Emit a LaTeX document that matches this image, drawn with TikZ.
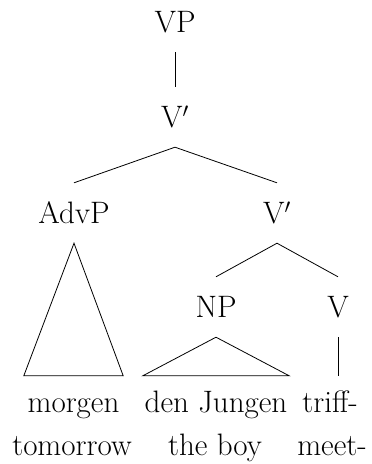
\documentclass[tikz,border=0pt]{standalone}
\usepackage{fontspec}
\begin{document}
\begin{tikzpicture}[x=1pt,y=-1pt,
  font=\fontsize{31}{37}\selectfont,
  cat/.style={anchor=base,inner xsep=0pt,inner ysep=20pt,text height=20pt,text depth=0pt},
  leaf/.style={anchor=base,inner xsep=0pt,inner ysep=16pt,text height=20pt,text depth=0pt,minimum height=0pt},
  gloss/.style={anchor=base,inner sep=0pt},
  br/.style={line width=0.8pt}]
\useasboundingbox (0,0) rectangle (372,464);
\node[cat] (vp) at (175,32) {VP};
\node[cat] (v1) at (175,127) {V$'$};
\node[cat] (adv) at (74,223) {AdvP};
\node[cat] (v2) at (277,223) {V$'$};
\node[cat] (np) at (216,317) {NP};
\node[cat] (v) at (338,317) {V};
\node[leaf,minimum width=99pt] (morgen) at (73.5,412) {morgen};
\node[leaf,minimum width=146pt] (jungen) at (216,412) {den Jungen};
\node[leaf] (triff) at (330,412) {triff-};
\node[gloss] (g1) at (72,455) {tomorrow};
\node[gloss] (g2) at (215,455) {the boy};
\node[gloss] (g3) at (332,455) {meet-};
\draw[br] (vp.south) -- (v1.north);
\draw[br] (adv.north) -- (v1.south) -- (v2.north);
\draw[br] (np.north) -- (v2.south) -- (v.north);
\draw[br] (adv.south) -- (morgen.north west) -- (morgen.north east) -- cycle;
\draw[br] (np.south) -- (jungen.north west) -- (jungen.north east) -- cycle;
\draw[br] (v.south) -- (v.south |- triff.north);
\end{tikzpicture}
\end{document}
